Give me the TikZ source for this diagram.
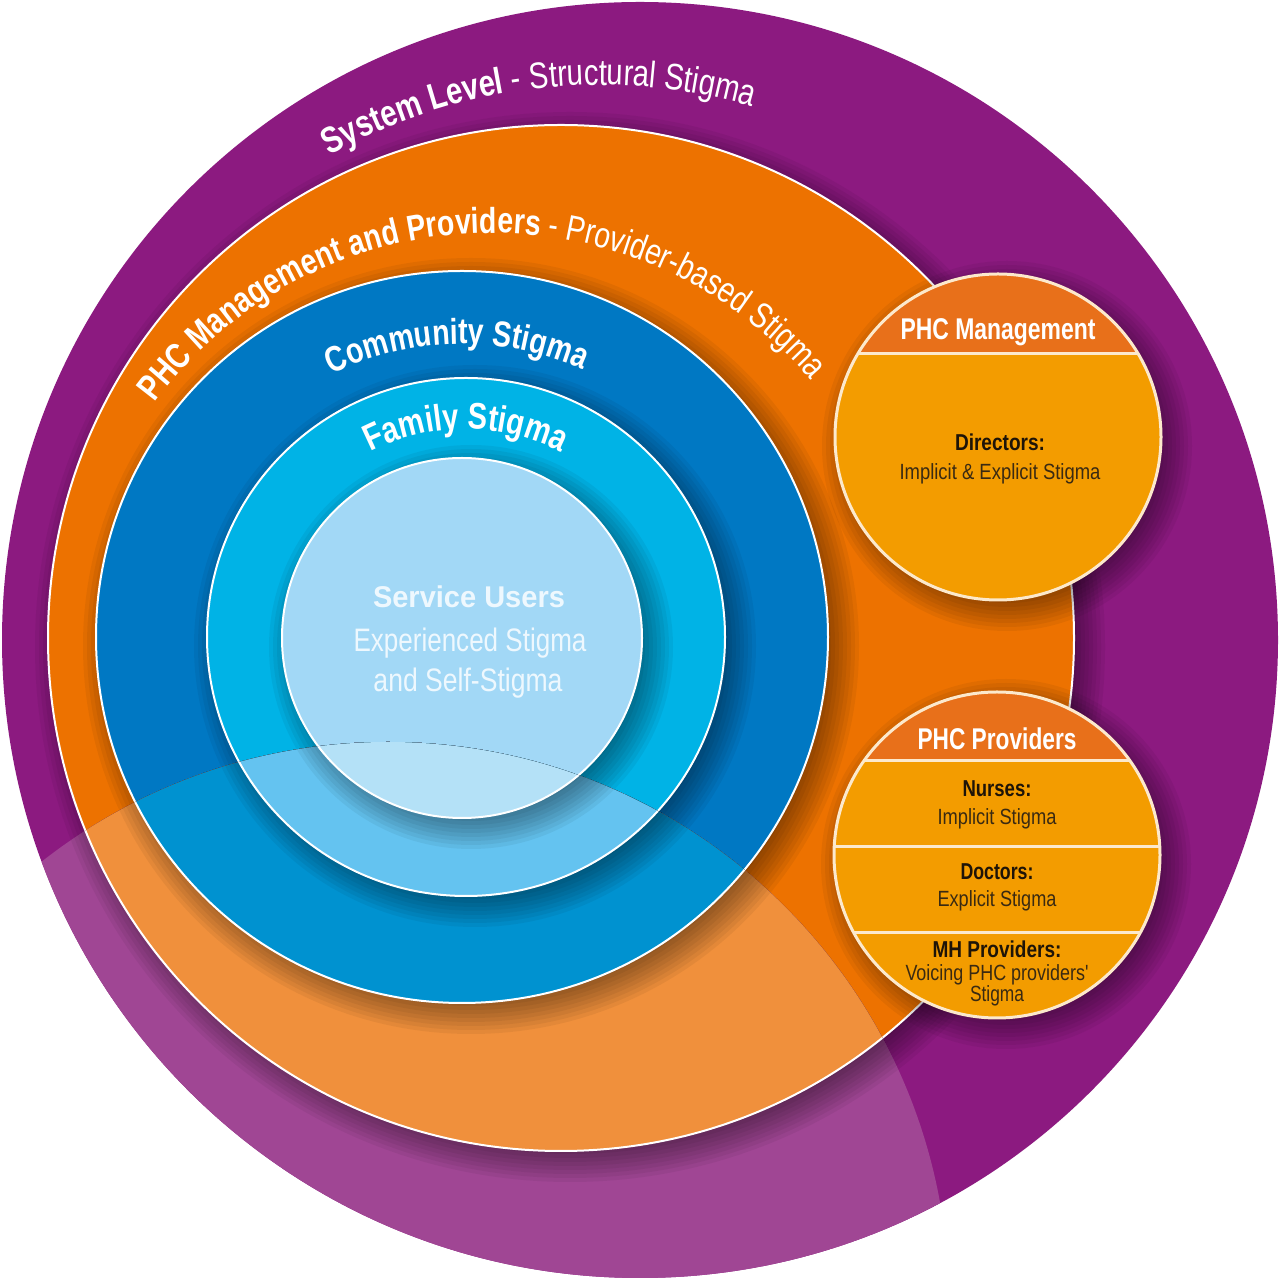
\documentclass[tikz,border=0pt]{standalone}
\usepackage{fontspec}
\setmainfont{Liberation Sans}
\newfontfamily\cond[FakeStretch=0.79]{Liberation Sans}
\usetikzlibrary{decorations.text}
\definecolor{purp}{HTML}{8C1A80}
\definecolor{orng}{HTML}{ED7200}
\definecolor{cblue}{HTML}{0078C3}
\definecolor{fblue}{HTML}{00B3E6}
\definecolor{sblue}{HTML}{A2D8F6}
\definecolor{purpL}{HTML}{A04694}
\definecolor{orngL}{HTML}{F0903C}
\definecolor{cblueL}{HTML}{0092D0}
\definecolor{fblueL}{HTML}{64C3F0}
\definecolor{sblueL}{HTML}{B4E1F7}
\definecolor{phcbody}{HTML}{F39C00}
\definecolor{phchead}{HTML}{E8701A}
\definecolor{cream}{HTML}{FCE9CC}
\definecolor{darktxt}{HTML}{1E1408}
\definecolor{midtxt}{HTML}{3A2A12}
\definecolor{sutxt}{HTML}{EEF8FE}
\newcommand\fs[1]{\fontsize{#1}{#1}\selectfont}
\newcommand\wfit[2]{\resizebox{#1pt}{\height}{#2}}
\newcommand\softshade[3]{%
  \foreach \k in {0,...,9}{\fill[black,opacity=0.05] (#1+9,#2-9) circle ({#3+22-4*\k});}}
\newcommand\ringstack[5]{%
  \fill[#1] (640,640) circle (638);
  \softshade{561}{642}{513}
  \fill[#2] (561,642) circle (513);
  \draw[ringline] (561,642) circle (513);
  \softshade{462}{643}{366}
  \fill[#3] (462,643) circle (366);
  \draw[ringline] (462,643) circle (366);
  \softshade{466}{643}{259}
  \fill[#4] (466,643) circle (259);
  \draw[ringline] (466,643) circle (259);
  \softshade{462}{642}{180}
  \fill[#5] (462,642) circle (180);
  \draw[ringline] (462,642) circle (180);}
\begin{document}
\begin{tikzpicture}[x=1pt,y=1pt,
  ringline/.style={draw=white, line width=2pt},
  phcline/.style={draw=cream, line width=3pt},
  hdr/.style={font=\cond\bfseries\fs{30}, text=white, anchor=base, inner sep=0pt},
  role/.style={font=\cond\bfseries\fs{23}, text=darktxt, anchor=base, inner sep=0pt},
  desc/.style={font=\cond\fs{22}, text=midtxt, anchor=base, inner sep=0pt},
  sutitle/.style={font=\cond\bfseries\fs{30}, text=sutxt, anchor=base, inner sep=0pt},
  sudesc/.style={font=\cond\fs{32.5}, text=sutxt, anchor=base, inner sep=0pt},
  curved/.style={decorate, decoration={text along path, text align=center, text color=white, text={#1}}}
]
\useasboundingbox (0,0) rectangle (1280,1280);
\fill[white] (0,0) rectangle (1280,1280);

% nested rings
\ringstack{purp}{orng}{cblue}{fblue}{sblue}

% lighter lower segment
\begin{scope}
  \clip (640,640) circle (638);
  \clip (388,-23) circle (561);
  \ringstack{purpL}{orngL}{cblueL}{fblueL}{sblueL}
\end{scope}

% curved labels
\path[curved={|\cond\bfseries\fs{37}|System Level|\cond\mdseries\fs{37}| - Structural Stigma}]
  (600,640) ++(146.6:555) arc[start angle=146.6, end angle=46.6, radius=555];
\path[curved={|\cond\bfseries\fs{36}|PHC Management and Providers|\cond\mdseries\fs{36}| - Provider-based Stigma}]
  (492,627) ++(172:420) arc[start angle=172, end angle=12, radius=420];
\path[curved={|\cond\bfseries\fs{36}|Community Stigma}]
  (462,643) ++(141:293) arc[start angle=141, end angle=41, radius=293];
\path[curved={|\cond\bfseries\fs{37}|Family Stigma}]
  (466,643) ++(140:208) arc[start angle=140, end angle=40, radius=208];

% service users text
\node[sutitle] (su1) at (469,672) {\wfit{192}{Service Users}};
\node[sudesc] (su2) at (470,628) {\wfit{233}{Experienced Stigma}};
\node[sudesc] (su3) at (468,588) {\wfit{189}{and Self-Stigma}};

% PHC Management circle
\softshade{998}{843}{163}
\fill[phcbody] (998,843) circle (163);
\begin{scope}
  \clip (998,843) circle (163);
  \fill[phchead] (820,926) rectangle (1180,1020);
  \draw[phcline] (820,926) -- (1180,926);
\end{scope}
\draw[phcline] (998,843) circle (163);
\node[hdr] (mgmt) at (998,940) {\wfit{195}{PHC Management}};
\node[role] (dir) at (1000,829) {\wfit{90}{Directors:}};
\node[desc] (dirdesc) at (1000,800) {\wfit{201}{Implicit \& Explicit Stigma}};

% PHC Providers circle
\softshade{997}{425}{163}
\fill[phcbody] (997,425) circle (163);
\begin{scope}
  \clip (997,425) circle (163);
  \fill[phchead] (820,519) rectangle (1180,600);
  \draw[phcline] (820,519) -- (1180,519);
  \draw[phcline] (820,433) -- (1180,433);
  \draw[phcline] (820,347) -- (1180,347);
\end{scope}
\draw[phcline] (997,425) circle (163);
\node[hdr] (prov) at (997,530) {\wfit{159}{PHC Providers}};
\node[role] (nur) at (997,483) {\wfit{69}{Nurses:}};
\node[desc] (nurdesc) at (997,455) {\wfit{119}{Implicit Stigma}};
\node[role] (doc) at (997,400) {\wfit{73}{Doctors:}};
\node[desc] (docdesc) at (997,373) {\wfit{119}{Explicit Stigma}};
\node[role] (mh) at (997,322) {\wfit{129}{MH Providers:}};
\node[desc] (mhdesc1) at (997,299) {\wfit{183}{Voicing PHC providers'}};
\node[desc] (mhdesc2) at (997,278) {\wfit{54}{Stigma}};
\end{tikzpicture}
\end{document}
